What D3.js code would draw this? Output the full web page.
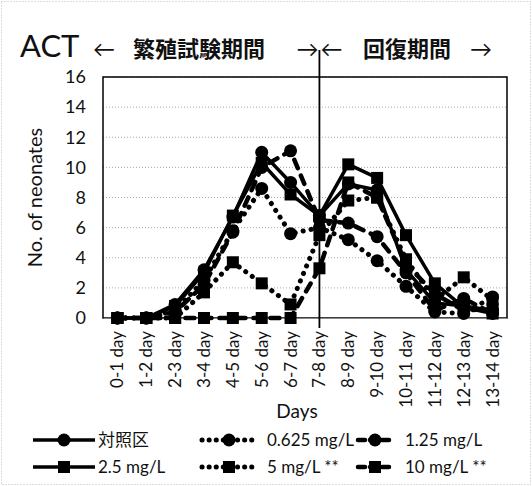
<!DOCTYPE html>
<html>
<head>
<meta charset="utf-8">
<script src="https://cdn.jsdelivr.net/npm/d3@7"></script>
<style>
body { margin:0; background:#fff; }
text { font-family: Lato, "Noto Sans CJK JP", sans-serif; fill:#111; }
</style>
</head>
<body>
<svg id="chart" width="532" height="486"></svg>
<script>
var days = ["0-1 day","1-2 day","2-3 day","3-4 day","4-5 day","5-6 day","6-7 day","7-8 day","8-9 day","9-10 day","10-11 day","11-12 day","12-13 day","13-14 day"];
var yTicks = [0,2,4,6,8,10,12,14,16];

var control  = [0,0,0.9,3.2,6.7,11.0,9.0,6.8,8.9,8.5,3.2,1.0,0.8,0.5];
var c0625    = [0,0,0.5,2.5,5.8,8.6,5.6,6.0,5.2,3.8,2.1,0.4,0.3,1.4];
var c125     = [0,0,0.4,2.2,5.7,10.0,11.1,6.5,6.3,5.4,3.0,0.5,1.3,0.3];
var c25      = [0,0,0.8,3.0,6.8,10.3,8.2,6.8,10.2,9.3,5.5,2.3,0.7,0.3];
var c5       = [0,0,0,1.7,3.7,2.3,0.9,5.5,7.8,8.0,3.9,1.2,2.7,1.2];
var c10      = [0,0,0,0,0,0,0,3.3,9.0,8.0,3.6,1.6,0.5,0.6];

var seriesNames = ["対照区","0.625 mg/L","1.25 mg/L","2.5 mg/L","5 mg/L **","10 mg/L **"];
var seriesData = [control, c0625, c125, c25, c5, c10];
var seriesStyle = ["solid","dot","dash","solid","dot","dash"];
var seriesMarker = ["circle","circle","circle","square","square","square"];

(function() {
var svg = d3.select("#chart");
var pLeft = 103, pRight = 507, pTop = 77, pBottom = 318;

// outer dotted frame
svg.append("rect").attr("x",1.5).attr("y",1.5).attr("width",529).attr("height",483)
  .style("fill","none").style("stroke","#bbb").style("stroke-dasharray","1,2");

var x = d3.scaleBand().domain(days).range([pLeft, pRight]);
var y = d3.scaleLinear().domain([0,16]).range([pBottom, pTop]);

// gridlines
svg.append("g").selectAll("line").data(yTicks.slice(1)).enter().append("line")
  .attr("x1", pLeft).attr("x2", pRight)
  .attr("y1", function(d){ return y(d); }).attr("y2", function(d){ return y(d); })
  .style("stroke","#aaa").style("stroke-width",1).style("stroke-dasharray","1,2");

// plot border
svg.append("rect").attr("x",pLeft).attr("y",pTop).attr("width",pRight-pLeft).attr("height",pBottom-pTop)
  .style("fill","none").style("stroke","#000").style("stroke-width",1.5);

// y axis
var yAxis = d3.axisLeft(y).tickValues(yTicks).tickSize(0).tickPadding(17);
var gy = svg.append("g").attr("transform","translate("+pLeft+",0)").call(yAxis);
gy.select(".domain").remove();
gy.selectAll("text").style("font-size","18px").style("fill","#111").style("font-family","Lato");

// x axis
var xAxis = d3.axisBottom(x).tickSize(0).tickPadding(0);
var gx = svg.append("g").attr("transform","translate(0,"+pBottom+")").call(xAxis);
gx.select(".domain").style("stroke","#888");
gx.selectAll("text")
  .attr("transform","rotate(-90)")
  .attr("x",-13).attr("y",0).attr("dy","0.35em")
  .style("text-anchor","end").style("font-size","17px").style("fill","#111").style("font-family","Lato");

// divider line at 7-8 day
var divX = x("7-8 day") + x.bandwidth()/2;
svg.append("line").attr("x1",divX).attr("x2",divX).attr("y1",50).attr("y2",328)
  .style("stroke","#000").style("stroke-width",1.8);

// titles
svg.append("text").attr("x",20).attr("y",57).text("ACT").style("font-size","31px");
svg.append("text").attr("x",93).attr("y",57).text("←").style("font-size","22px");
svg.append("text").attr("x",133).attr("y",57).text("繁殖試験期間")
  .style("font-size","22px").style("font-weight","bold").style("font-family","'Noto Sans CJK JP'");
svg.append("text").attr("x",divX-1).attr("y",57).text("→").style("font-size","22px").style("text-anchor","end");
svg.append("text").attr("x",divX+1).attr("y",57).text("←").style("font-size","22px");
svg.append("text").attr("x",363).attr("y",57).text("回復期間")
  .style("font-size","22px").style("font-weight","bold").style("font-family","'Noto Sans CJK JP'");
svg.append("text").attr("x",470).attr("y",57).text("→").style("font-size","22px");

svg.append("text").attr("transform","translate(42,"+((pTop+pBottom)/2)+") rotate(-90)")
  .style("text-anchor","middle").style("font-size","20px").text("No. of neonates");
svg.append("text").attr("x",(pLeft+pRight)/2 - 8).attr("y",418)
  .style("text-anchor","middle").style("font-size","19px").text("Days");

function applyStroke(sel, style) {
  sel.style("fill","none").style("stroke","#000");
  if (style === "solid") sel.style("stroke-width",3.5);
  if (style === "dot") sel.style("stroke-width",5).style("stroke-linecap","round").style("stroke-dasharray","0.1,8");
  if (style === "dash") sel.style("stroke-width",4.5).style("stroke-linecap","round").style("stroke-dasharray","9,8");
  return sel;
}
function drawMarker(g, kind, cx, cy) {
  if (kind === "circle") g.append("circle").attr("cx",cx).attr("cy",cy).attr("r",6.5).style("fill","#000");
  else g.append("rect").attr("x",cx-6).attr("y",cy-6).attr("width",12).attr("height",12).style("fill","#000");
}

var line = d3.line()
  .x(function(d,i){ return x(days[i]) + x.bandwidth()/2; })
  .y(function(d){ return y(d); });

seriesData.forEach(function(vals, si) {
  var g = svg.append("g");
  applyStroke(g.append("path").attr("d", line(vals)), seriesStyle[si]);
  vals.forEach(function(v,i){
    drawMarker(g, seriesMarker[si], x(days[i]) + x.bandwidth()/2, y(v));
  });
});

// legend
var legX = [33, 202, 358];
var legW = [62, 54, 34];
var legT = [98, 267, 405];
var legY = [440, 467];
seriesNames.forEach(function(name, si) {
  var col = si % 3, row = Math.floor(si / 3);
  var lx = legX[col], ly = legY[row], w = legW[col];
  var g = svg.append("g");
  var ln = applyStroke(g.append("line").attr("x1",lx).attr("x2",lx+w).attr("y1",ly).attr("y2",ly), seriesStyle[si]);
  if (seriesStyle[si] === "dot") ln.style("stroke-dasharray","0.1,7");
  if (seriesStyle[si] === "dash") ln.style("stroke-dasharray","7,5");
  drawMarker(g, seriesMarker[si], lx + w/2, ly);
  g.append("text").attr("x", legT[col]).attr("y", ly).attr("dy","0.35em")
    .style("font-size","17px").text(name);
});
})();
</script>
</body>
</html>
